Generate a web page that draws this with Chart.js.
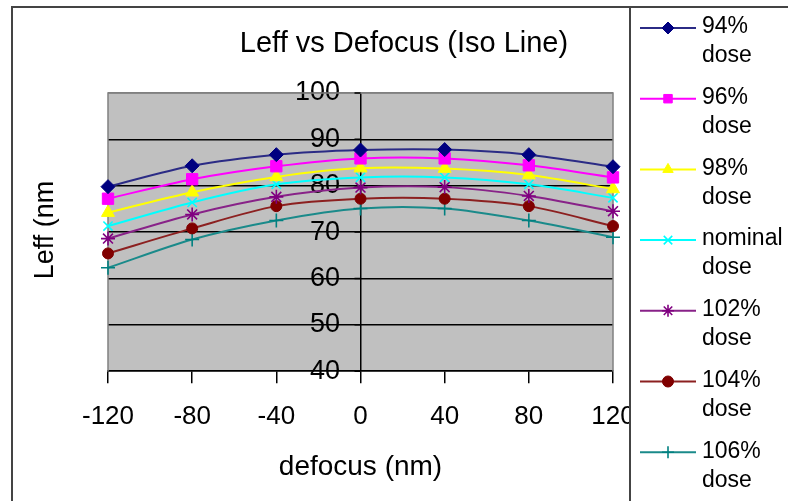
<!DOCTYPE html>
<html>
<head>
<meta charset="utf-8">
<script src="https://cdn.jsdelivr.net/npm/chart.js@4/dist/chart.umd.min.js"></script>
<style>
  html, body { margin: 0; padding: 0; background: #fff; }
  canvas { display: block; }
</style>
</head>
<body>
<canvas id="chart" width="788" height="501"></canvas>
<script>
"use strict";

// defocus (nm) on the x axis
const DEFOCUS = [-120, -80, -40, 0, 40, 80, 120];

// Leff (nm) per dose
const DOSE_94 = [79.8, 84.3, 86.7, 87.7, 87.8, 86.7, 84.1];
const DOSE_96 = [77.2, 81.4, 84.2, 85.9, 85.9, 84.4, 81.8];
const DOSE_98 = [74.2, 78.6, 81.9, 83.8, 83.7, 82.3, 79.3];
const DOSE_NOMINAL = [71.3, 76.4, 80.3, 81.8, 81.8, 80.3, 77.4];
const DOSE_102 = [68.6, 73.8, 77.6, 79.6, 79.7, 77.8, 74.5];
const DOSE_104 = [65.4, 70.8, 75.6, 77.2, 77.2, 75.6, 71.3];
const DOSE_106 = [62.3, 68.4, 72.5, 75.1, 75.1, 72.5, 68.9];

const SERIES_NAMES = ["94% dose", "96% dose", "98% dose", "nominal dose", "102% dose", "104% dose", "106% dose"];
const SERIES_VALUES = [DOSE_94, DOSE_96, DOSE_98, DOSE_NOMINAL, DOSE_102, DOSE_104, DOSE_106];

const TITLE = "Leff vs Defocus (Iso Line)";
const X_TITLE = "defocus (nm)";
const Y_TITLE = "Leff (nm";

const FONT = '"Liberation Sans", Arial, sans-serif';

const STYLES = [
  { line: "#2b2b85", mark: "#000080", shape: "rectRot", r: 7 },
  { line: "#ff00ff", mark: "#ff00ff", shape: "rect", r: 8 },
  { line: "#ffff00", mark: "#ffff00", shape: "triangle", r: 7.5 },
  { line: "#00ffff", mark: "#00ffff", shape: "crossRot", r: 6.5 },
  { line: "#882288", mark: "#800080", shape: "star", r: 7 },
  { line: "#8c2020", mark: "#800000", shape: "circle", r: 5.5 },
  { line: "#1a8a8a", mark: "#008080", shape: "cross", r: 7 },
];

const datasets = SERIES_NAMES.map((name, i) => {
  const st = STYLES[i];
  const open = st.shape === "cross" || st.shape === "crossRot" || st.shape === "star";
  return {
    label: name,
    data: DEFOCUS.map((x, j) => ({ x, y: SERIES_VALUES[i][j] })),
    borderColor: st.line,
    borderWidth: 2,
    backgroundColor: st.mark,
    pointStyle: st.shape,
    pointRadius: st.r,
    pointBackgroundColor: st.mark,
    pointBorderColor: st.mark,
    pointBorderWidth: open ? 1.6 : 1,
    tension: 0.3,
    clip: false,
  };
});

const plotBackground = {
  id: "plotBackground",
  beforeDraw(c) {
    const { ctx, chartArea: a } = c;
    ctx.save();
    ctx.fillStyle = "#c0c0c0";
    ctx.fillRect(a.left, a.top, a.right - a.left, a.bottom - a.top);
    ctx.restore();
  },
  beforeDatasetsDraw(c) {
    const { ctx, chartArea: a, scales } = c;
    ctx.save();
    ctx.strokeStyle = "#808080";
    ctx.lineWidth = 1.5;
    ctx.beginPath();
    ctx.moveTo(a.left, a.bottom);
    ctx.lineTo(a.left, a.top);
    ctx.lineTo(a.right, a.top);
    ctx.lineTo(a.right, a.bottom);
    ctx.stroke();
    // small tick marks on the left of the value axis (which crosses at x = 0)
    const x0 = scales.x.getPixelForValue(0);
    ctx.strokeStyle = "#000";
    ctx.beginPath();
    scales.y.ticks.forEach((t) => {
      const y = scales.y.getPixelForValue(t.value);
      ctx.moveTo(x0 - 6, y);
      ctx.lineTo(x0, y);
    });
    ctx.stroke();
    ctx.restore();
  },
};

const frameAndLegend = {
  id: "frameAndLegend",
  afterDraw(c) {
    const { ctx } = c;
    ctx.save();

    // title
    ctx.fillStyle = "#000";
    ctx.font = `29px ${FONT}`;
    ctx.textAlign = "center";
    ctx.textBaseline = "alphabetic";
    ctx.fillText(TITLE, 404, 52);

    // y axis title (rotated)
    ctx.save();
    ctx.translate(53, 230);
    ctx.rotate(-Math.PI / 2);
    ctx.font = `27px ${FONT}`;
    ctx.fillText(Y_TITLE, 0, 0);
    ctx.restore();

    // legend panel
    ctx.fillStyle = "#fff";
    ctx.fillRect(630, 7, 158, 494);
    ctx.strokeStyle = "#444";
    ctx.lineWidth = 2;
    ctx.beginPath();
    ctx.moveTo(12, 501);
    ctx.lineTo(12, 7);
    ctx.lineTo(788, 7);
    ctx.moveTo(630, 7);
    ctx.lineTo(630, 501);
    ctx.stroke();

    ctx.font = `23px ${FONT}`;
    ctx.textAlign = "left";
    ctx.textBaseline = "middle";
    c.data.datasets.forEach((ds, i) => {
      const y = 27 + i * 70.7;
      ctx.strokeStyle = ds.borderColor;
      ctx.lineWidth = 2;
      ctx.beginPath();
      ctx.moveTo(640, y + 1);
      ctx.lineTo(696, y + 1);
      ctx.stroke();
      ctx.fillStyle = ds.pointBackgroundColor;
      ctx.strokeStyle = ds.pointBorderColor;
      ctx.lineWidth = ds.pointBorderWidth;
      Chart.helpers.drawPoint(ctx, {
        pointStyle: ds.pointStyle,
        rotation: 0,
        radius: Math.min(ds.pointRadius, 6),
        borderWidth: ds.pointBorderWidth,
      }, 668, y + 1);
      const cut = ds.label.lastIndexOf(" ");
      ctx.fillStyle = "#000";
      ctx.fillText(ds.label.slice(0, cut), 702, y);
      ctx.fillText(ds.label.slice(cut + 1), 702, y + 29);
    });

    ctx.restore();
  },
};

Chart.defaults.font.family = FONT;
Chart.defaults.color = "#000";

new Chart(document.getElementById("chart"), {
  type: "line",
  data: { datasets },
  options: {
    responsive: false,
    animation: false,
    layout: { padding: { left: 108, right: 175, top: 93, bottom: 17 } },
    scales: {
      x: {
        type: "linear",
        min: -120,
        max: 120,
        ticks: {
          stepSize: 40,
          padding: 18,
          font: { size: 26 },
          color: "#000",
          callback: (v) => String(v),
        },
        grid: {
          drawOnChartArea: true,
          color: (ctx) => (ctx.tick && ctx.tick.value === 0 ? "#000" : "rgba(0,0,0,0)"),
          tickColor: "#000",
          drawTicks: true,
          tickLength: 12,
          lineWidth: 1.5,
        },
        border: { display: true, color: "#000", width: 1.5 },
        title: { display: true, text: X_TITLE, font: { size: 28 }, color: "#000", padding: { top: 0, bottom: 0 } },
      },
      y: {
        type: "linear",
        // labels sit just left of the axis that crosses at x = 0
        position: { x: -9.7 },
        min: 40,
        max: 100,
        ticks: { stepSize: 10, font: { size: 27 }, color: "#000" },
        grid: {
          color: (ctx) => (ctx.tick && ctx.tick.value === 100 ? "#808080" : "#000"),
          lineWidth: 1.5,
          drawTicks: false,
        },
        border: { display: false },
      },
    },
    plugins: {
      legend: { display: false },
      title: { display: false },
      tooltip: { enabled: false },
    },
  },
  plugins: [plotBackground, frameAndLegend],
});
</script>
</body>
</html>
